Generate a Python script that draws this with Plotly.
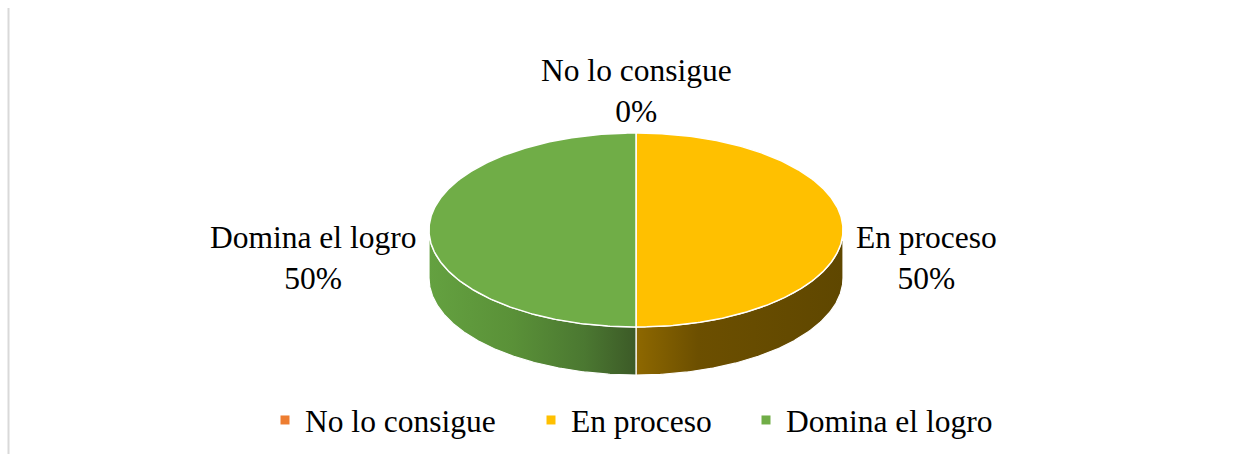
import numpy as np
import plotly.graph_objects as go

# ---- data ----
categories = ["No lo consigue", "En proceso", "Domina el logro"]
values = [0, 50, 50]
top_colors = ["#ED7D31", "#FFC000", "#70AD47"]
side_scales = [
    [[0, "#C0601F"], [1, "#7A3F15"]],
    [[0, "#8E6800"], [0.3, "#6C4F00"], [1, "#5F4700"]],
    [[0, "#64A140"], [0.4, "#5A9138"], [0.75, "#4B7831"], [1, "#3C5A27"]],
]

# ---- layout constants (pixels) ----
W, H = 1252, 454
CX, CY, RX, RY, DEPTH = 636, 230, 207, 97, 48
FONT = "Liberation Serif, Times New Roman, serif"
FS = 31.5

total = float(sum(values))
pcts = [f"{round(v / total * 100)}%" for v in values]


def ell(theta_deg, dy=0.0):
    t = np.radians(theta_deg)
    return CX + RX * np.sin(t), CY - RY * np.cos(t) + dy


fig = go.Figure()

# slice angle ranges (clockwise from 12 o'clock)
bounds = []
cum = 0.0
for v in values:
    a = cum / total * 360
    cum += v
    b = cum / total * 360
    bounds.append((a, b))

# --- sides (front half only) ---
for i, (a, b) in enumerate(bounds):
    lo, hi = max(a, 90), min(b, 270)
    if hi <= lo:
        continue
    th = np.linspace(lo, hi, 200)
    xt, yt = ell(th)
    xb, yb = ell(th[::-1], DEPTH)
    xs = np.concatenate([xt, xb, xt[:1]])
    ys = np.concatenate([yt, yb, yt[:1]])
    fig.add_trace(go.Scatter(
        x=xs, y=ys, mode="lines", fill="toself",
        fillgradient=dict(type="horizontal", colorscale=side_scales[i]),
        line=dict(color="white", width=1.2),
        hoverinfo="skip", showlegend=False,
    ))

# --- top surface ---
for i, (a, b) in enumerate(bounds):
    if b - a <= 0:
        continue
    th = np.linspace(a, b, 300)
    xa, ya = ell(th)
    xs = np.concatenate([[CX], xa, [CX]])
    ys = np.concatenate([[CY], ya, [CY]])
    fig.add_trace(go.Scatter(
        x=xs, y=ys, mode="lines", fill="toself", fillcolor=top_colors[i],
        line=dict(color="white", width=1.5),
        name=categories[i], text=f"{categories[i]}: {pcts[i]}",
        hoverinfo="text", hoveron="fills", showlegend=False,
    ))

# --- data labels ---
for i, (a, b) in enumerate(bounds):
    mid = (a + b) / 2
    px, py = ell(mid)
    s = np.sin(np.radians(mid))
    txt = f"{categories[i]}<br>{pcts[i]}"
    if s > 0.5:
        ax, ay, xa_ = px + 11, CY + 27.5, "left"
    elif s < -0.5:
        ax, ay, xa_ = px - 11, CY + 27.5, "right"
    else:
        ax, ay, xa_ = px, py - 42, "center"
    fig.add_annotation(x=ax, y=ay, xref="x", yref="y", text=txt,
                       showarrow=False, xanchor=xa_, yanchor="middle",
                       align="center", font=dict(family=FONT, size=FS, color="black"))

# --- legend (one legend per entry to match spacing) ---
legend_x = [265, 531, 746]
for i, cat in enumerate(categories):
    lname = "legend" if i == 0 else f"legend{i+1}"
    fig.add_trace(go.Scatter(
        x=[None], y=[None], mode="markers", name=cat,
        marker=dict(symbol="square", size=9, color=top_colors[i]),
        legend=lname, showlegend=True,
    ))
    fig.update_layout(**{lname: dict(
        x=legend_x[i] / W, y=1 - 420 / H, xanchor="left", yanchor="middle",
        orientation="h", bgcolor="rgba(0,0,0,0)", borderwidth=0,
        font=dict(family=FONT, size=FS, color="black"),
    )})

# left border line of the chart area
fig.add_shape(type="line", xref="paper", yref="paper",
              x0=8.5 / W, x1=8.5 / W, y0=0, y1=1 - 8 / H,
              line=dict(color="#D9D9D9", width=2))

fig.update_layout(
    width=W, height=H, margin=dict(l=0, r=0, t=0, b=0),
    paper_bgcolor="white", plot_bgcolor="white",
    xaxis=dict(range=[0, W], visible=False, fixedrange=True),
    yaxis=dict(range=[H, 0], visible=False, fixedrange=True),
    showlegend=True, hovermode="closest",
)

fig.write_html("out.html", config={"displayModeBar": False},
               post_script="document.body.style.margin='0';document.body.style.overflow='hidden';")
